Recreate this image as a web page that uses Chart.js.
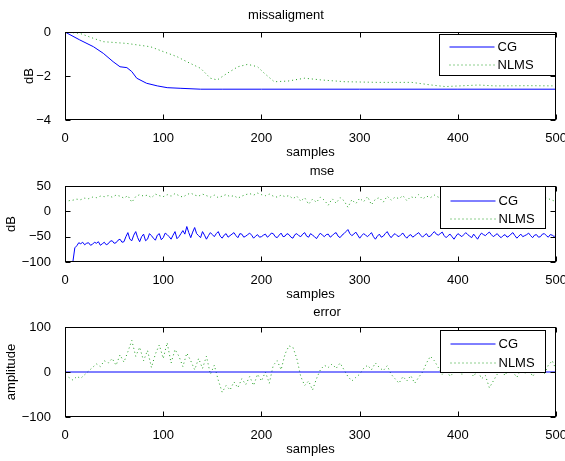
<!DOCTYPE html>
<html><head><meta charset="utf-8">
<script src="https://cdn.jsdelivr.net/npm/chart.js@4.4.1/dist/chart.umd.min.js"></script>
<style>
html,body{margin:0;padding:0;background:#fff;overflow:hidden}
#wrap{position:relative;width:565px;height:461px;background:#fff;overflow:hidden}
canvas{position:absolute;left:0}
</style></head><body>
<div id="wrap">
<canvas id="c1" width="570" height="165" style="top:0px"></canvas>
<canvas id="c2" width="570" height="153" style="top:154px"></canvas>
<canvas id="c3" width="570" height="167" style="top:295px"></canvas>
</div>
<script>
// ---------- data ----------
const xTicks = [0, 100, 200, 300, 400, 500];
const misTicks = [-4, -2, 0];
const mseTicks = [-100, -50, 0, 50];
const errTicks = [-100, 0, 100];
const seriesNames = ['CG', 'NLMS'];
const plotTitles = ['missaligment', 'mse', 'error'];

// missaligment (dB)
const misCGx = [0, 15, 29, 39, 49, 56, 63, 68, 73, 83, 94, 104, 118, 138, 160, 200, 300, 400, 500];
const misCG  = [0, -0.36, -0.67, -0.97, -1.35, -1.58, -1.62, -1.8, -2.1, -2.33, -2.45, -2.53, -2.56, -2.6, -2.6, -2.6, -2.6, -2.6, -2.6];
const misNLMSx = [0, 15, 29, 39, 63, 87, 100, 114, 124, 138, 148, 155, 165, 176, 186, 196, 203, 213, 227, 244, 261, 285, 319, 353, 373, 387, 421, 438, 472, 500];
const misNLMS  = [0, -0.06, -0.29, -0.44, -0.52, -0.67, -0.89, -1.12, -1.35, -1.65, -2.1, -2.18, -1.88, -1.58, -1.47, -1.58, -1.88, -2.26, -2.23, -2.1, -2.18, -2.26, -2.29, -2.29, -2.41, -2.48, -2.41, -2.45, -2.44, -2.45];

// mse CG (dB), read every 2 samples: 0,2,4,...,500
const mseCGStep = 2;
const mseCG = [
  null, null, null, null, -100, -72, -68, -62, -64, -61,
  -66, -63, -62, -67, -65, -61, -63, -60, -67, -64,
  -61, -66, -64, -59, -58, -63, -62, -57, -55, -61,
  -60, -50, -42, -55, -58, -47, -40, -52, -60, -50,
  -45, -58, -55, -44, -48, -53, -57, -47, -44, -56,
  -52, -43, -46, -50, -55, -47, -40, -54, -50, -44,
  -38, -45, -30, -42, -52, -41, -32, -44, -48, -52,
  -40, -47, -55, -48, -42, -46, -50, -44, -40, -49,
  -53, -47, -44, -51, -48, -45, -42, -48, -52, -44,
  -45, -51, -49, -46, -43, -47, -53, -49, -46, -51,
  -50, -47, -45, -51, -48, -43, -44, -50, -52, -47,
  -43, -50, -49, -44, -46, -51, -53, -46, -44, -48,
  -50, -45, -42, -49, -51, -44, -47, -50, -54, -48,
  -43, -47, -50, -46, -45, -51, -48, -44, -42, -49,
  -52, -47, -44, -40, -36, -44, -48, -45, -41, -47,
  -53, -48, -44, -47, -50, -46, -42, -50, -55, -49,
  -45, -51, -49, -44, -40, -47, -52, -47, -44, -48,
  -50, -46, -43, -49, -53, -48, -46, -51, -48, -45,
  -42, -47, -51, -47, -44, -50, -49, -44, -40, -45,
  -47, -44, -41, -48, -52, -48, -45, -50, -55, -49,
  -44, -47, -50, -46, -42, -46, -49, -52, -45, -50,
  -55, -48, -43, -46, -48, -44, -41, -46, -50, -47,
  -44, -49, -52, -48, -46, -51, -49, -45, -42, -48,
  -53, -49, -45, -50, -48, -46, -43, -48, -52, -47,
  -46, -51, -50, -45, -44, -48, -51, -46, -47, -50,
  -46];

// mse NLMS (dB), read every 4 samples: 0,4,...,500
const mseNLMSStep = 4;
const mseNLMS = [18, 21, 22, 24, 23, 26, 25, 28, 27, 30, 29, 31, 28, 32, 30, 26,
  31, 18, 29, 33, 30, 32, 27, 34, 31, 29, 33, 30, 35, 31, 28, 33,
  36, 32, 30, 34, 31, 28, 32, 27, 30, 33, 29, 31, 26, 30, 33, 35,
  32, 36, 33, 31, 34, 30, 28, 32, 29, 31, 25, 30, 20, 27, 14, 24,
  18, 28, 22, 12, 25, 16, 27, 21, 8, 23, 15, 26, 19, 29, 13, 24,
  27, 18, 30, 22, 28, 25, 31, 21, 29, 26, 33, 24, 30, 27, 32, 28,
  25, 30, 27, 23, 29, 26, 31, 24, 28, 25, 30, 27, 22, 28, 25, 31,
  26, 29, 24, 30, 27, 25, 29, 26, 30, 24, 28, 25, 22, 19];

// error (amplitude)
const errCGx = [0, 500];
const errCG = [0, 0];
const errNLMSStep = 4;
const errNLMS = [-8, -12, -18, -10, -14, -6, 2, 10, 18, 12, 25, 20, 30, 15, 38, 22,
  45, 70, 35, 55, 25, 48, 10, 40, 60, 30, 65, 20, 50, 35, 12, 42,
  25, 5, 30, 8, 35, -5, 15, -18, -45, -30, -40, -22, -35, -15, -28, -10,
  -30, -5, -20, 0, -25, 15, 25, 5, 40, 58, 55, 30, -10, -30, -20, -40,
  -15, 5, 15, 10, 18, 8, 20, 5, -10, -20, -12, -5, 8, 15, 5, 20,
  10, 3, 14, -5, -15, -25, -10, -20, -8, -25, -12, 0, 20, 35, 25, 10,
  -5, 5, -10, 0, 8, -5, 12, 2, -10, 5, -15, -8, -35, -20, -5, 5,
  -8, 10, 0, -12, 6, -5, 8, -10, 3, 12, -4, 15, 25, 5];

// ---------- styling ----------
const FONT = '"Liberation Sans", Arial, Helvetica, sans-serif';
const BLUE = '#0000ff';
const GREEN = '#1f9e1f';

const pairs = (xs, ys) => ys.map((v, i) => ({ x: xs[i], y: v }));
const stepped = (ys, step) => ys.map((v, i) => ({ x: i * step, y: v }));
const fmt = v => (v < 0 ? '\u2212' + Math.abs(v) : String(v));

// axes title drawn at an explicit place above the plot box
const plotTitlePlugin = {
  id: 'plotTitle',
  afterDraw(chart, args, o) {
    const { ctx, chartArea: a } = chart;
    ctx.save();
    ctx.font = o.size + 'px ' + FONT;
    ctx.fillStyle = '#000';
    ctx.textAlign = 'center';
    ctx.textBaseline = 'middle';
    ctx.fillText(o.text, o.x, a.top - o.above);
    ctx.restore();
  }
};

const framePlugin = {
  id: 'frame',
  afterDatasetsDraw(chart) {
    const { ctx, chartArea: a, scales } = chart;
    const L = Math.round(a.left) + 0.5, R = Math.round(a.right) - 0.5;
    const T = Math.round(a.top) + 0.5, B = Math.round(a.bottom) - 0.5;
    const tl = 5;
    ctx.save();
    ctx.strokeStyle = '#000';
    ctx.lineWidth = 1;
    ctx.strokeRect(L, T, R - L, B - T);
    ctx.beginPath();
    scales.x.ticks.forEach(t => {
      const px = Math.round(scales.x.getPixelForValue(t.value)) + 0.5;
      ctx.moveTo(px, B); ctx.lineTo(px, B - tl);
      ctx.moveTo(px, T); ctx.lineTo(px, T + tl);
    });
    scales.y.ticks.forEach(t => {
      const py = Math.round(scales.y.getPixelForValue(t.value)) + 0.5;
      ctx.moveTo(L, py); ctx.lineTo(L + tl, py);
      ctx.moveTo(R, py); ctx.lineTo(R - tl, py);
    });
    ctx.stroke();
    ctx.restore();
  }
};

const boxLegendPlugin = {
  id: 'boxLegend',
  afterDraw(chart, args, o) {
    const { ctx, chartArea: a } = chart;
    const x0 = Math.round(a.right - o.rightGap - o.width) + 0.5;
    const y0 = Math.round(a.top + o.topGap) + 0.5;
    ctx.save();
    ctx.fillStyle = '#fff';
    ctx.fillRect(x0, y0, o.width, o.height);
    ctx.strokeStyle = '#000';
    ctx.lineWidth = 1;
    ctx.setLineDash([]);
    ctx.strokeRect(x0, y0, o.width, o.height);
    ctx.font = o.fontSize + 'px ' + FONT;
    ctx.textBaseline = 'middle';
    ctx.textAlign = 'left';
    chart.data.datasets.forEach((ds, i) => {
      const y = Math.round(y0 + o.rows[i]);
      ctx.beginPath();
      ctx.strokeStyle = ds.borderColor;
      ctx.lineWidth = 1;
      ctx.setLineDash(ds.borderDash || []);
      ctx.moveTo(x0 + 10, y);
      ctx.lineTo(x0 + 55, y);
      ctx.stroke();
      ctx.setLineDash([]);
      ctx.fillStyle = '#000';
      ctx.fillText(ds.label, x0 + 58, y);
    });
    ctx.restore();
  }
};

function makeChart(id, cfg) {
  const font = { family: FONT, size: 13 };
  return new Chart(document.getElementById(id), {
    type: 'line',
    data: {
      datasets: [
        { label: seriesNames[0], data: cfg.cg, borderColor: BLUE, borderWidth: 1, pointRadius: 0, tension: 0, fill: false },
        { label: seriesNames[1], data: cfg.nlms, borderColor: GREEN, borderWidth: 1, borderDash: [1, 3], pointRadius: 0, tension: 0, fill: false }
      ]
    },
    options: {
      responsive: false,
      animation: false,
      events: [],
      layout: { padding: { top: 32, left: 0, right: 0, bottom: 0 } },
      plugins: {
        legend: { display: false },
        tooltip: { enabled: false },
        title: { display: false },
        plotTitle: { text: cfg.title, x: cfg.titleX, above: cfg.titleAbove, size: 13 },
        boxLegend: cfg.legend
      },
      scales: {
        x: {
          type: 'linear', min: 0, max: 500,
          afterFit: s => { s.height = 45; },
          afterBuildTicks: s => { s.ticks = xTicks.map(v => ({ value: v })); },
          grid: { display: false },
          border: { display: false },
          ticks: { color: '#000', font, padding: 3, maxRotation: 0, autoSkip: false, callback: fmt },
          title: { display: true, text: 'samples', color: '#000', font, padding: { top: 0, bottom: 5 } }
        },
        y: {
          type: 'linear', min: cfg.yTicks[0], max: cfg.yTicks[cfg.yTicks.length - 1],
          afterFit: s => { s.width = 65; },
          afterBuildTicks: s => { s.ticks = cfg.yTicks.map(v => ({ value: v })); },
          grid: { display: false },
          border: { display: false },
          ticks: { color: '#000', font, padding: 6, autoSkip: false, callback: fmt },
          title: { display: true, text: cfg.yTitle, color: '#000', font, padding: { top: cfg.yTitlePad, bottom: 0 } }
        }
      }
    },
    plugins: [framePlugin, boxLegendPlugin, plotTitlePlugin]
  });
}

makeChart('c1', {
  title: plotTitles[0], titleX: 286, titleAbove: 17, yTitle: 'dB', yTitlePad: 22,
  yTicks: misTicks,
  cg: pairs(misCGx, misCG), nlms: pairs(misNLMSx, misNLMS),
  legend: { width: 116, height: 41, rightGap: 1, topGap: 2, rows: [12, 30], fontSize: 13 }
});
makeChart('c2', {
  title: plotTitles[1], titleX: 322, titleAbove: 15, yTitle: 'dB', yTitlePad: 4,
  yTicks: mseTicks,
  cg: stepped(mseCG, mseCGStep), nlms: stepped(mseNLMS, mseNLMSStep),
  legend: { width: 105, height: 42, rightGap: 11, topGap: 0, rows: [14, 32], fontSize: 13 }
});
makeChart('c3', {
  title: plotTitles[2], titleX: 327, titleAbove: 15, yTitle: 'amplitude', yTitlePad: 4,
  yTicks: errTicks,
  cg: pairs(errCGx, errCG), nlms: stepped(errNLMS, errNLMSStep),
  legend: { width: 105, height: 42, rightGap: 11, topGap: 3, rows: [13, 32], fontSize: 13 }
});
</script>
</body></html>
